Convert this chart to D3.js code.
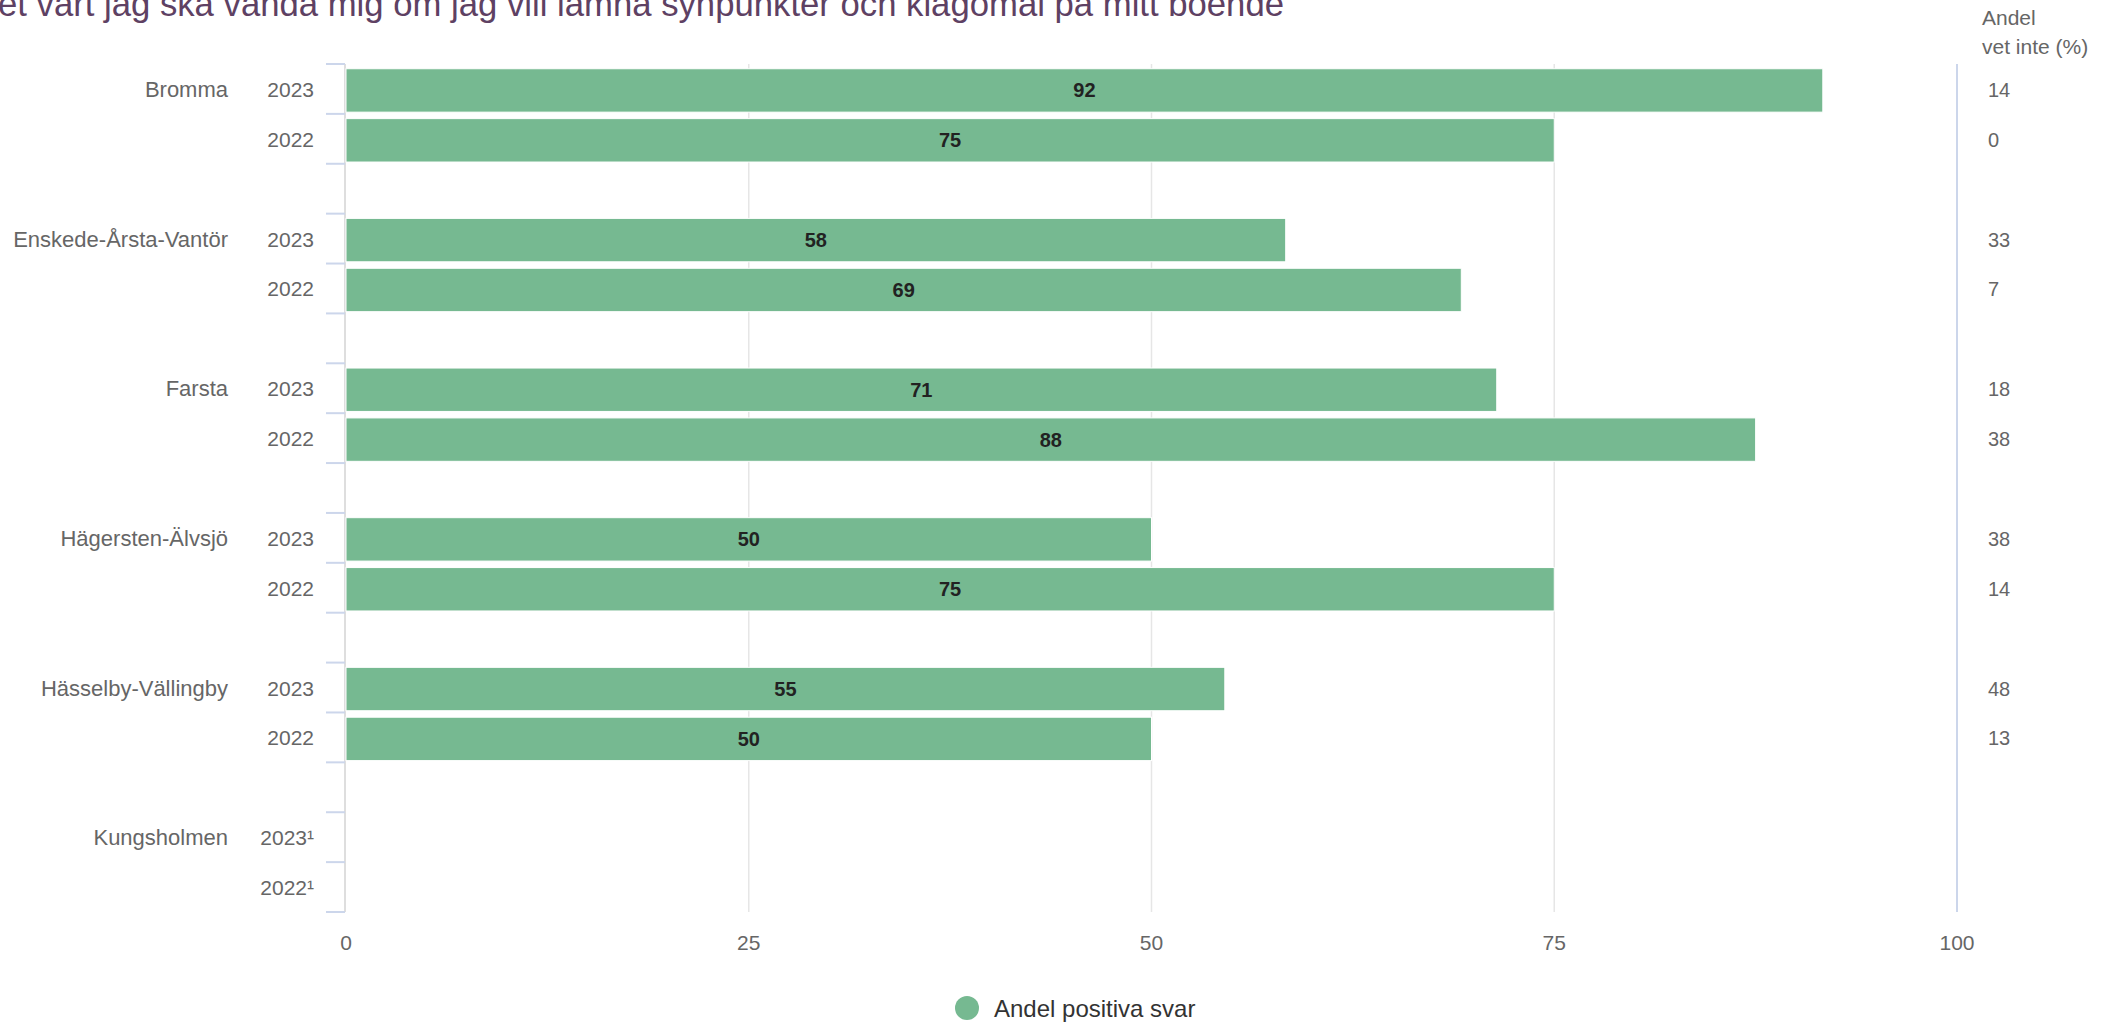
<!DOCTYPE html>
<html>
<head>
<meta charset="utf-8">
<script src="https://cdn.jsdelivr.net/npm/d3@7"></script>
<style>
  html, body { margin: 0; padding: 0; background: #fff; overflow: hidden; }
  svg { display: block; font-family: "Liberation Sans", Arial, Helvetica, sans-serif; }
</style>
</head>
<body>
<svg id="chart" width="2126" height="1023"></svg>
<script>
// ---- data ----
const titleText = "Jag vet vart jag ska vända mig om jag vill lämna synpunkter och klagomål på mitt boende";
const groups = ["Bromma", "Enskede-Årsta-Vantör", "Farsta", "Hägersten-Älvsjö", "Hässelby-Vällingby", "Kungsholmen"];
const yearLabels2023 = ["2023", "2023", "2023", "2023", "2023", "2023¹"];
const yearLabels2022 = ["2022", "2022", "2022", "2022", "2022", "2022¹"];
const positive2023 = [91.67, 58.33, 71.43, 50, 54.55, null];
const positive2022 = [75, 69.23, 87.5, 75, 50, null];
const dontKnow2023 = [14, 33, 18, 38, 48, null];
const dontKnow2022 = [0, 7, 38, 14, 13, null];
const xTicks = [0, 25, 50, 75, 100];
const legendLabel = "Andel positiva svar";
const rightHeader = ["Andel", "vet inte (%)"];

// ---- build rows ----
const rows = [];
const keys = [];
groups.forEach((g, gi) => {
  rows.push({ key: gi + "-a", group: g, groupLabel: true, year: yearLabels2023[gi], value: positive2023[gi], dk: dontKnow2023[gi] });
  rows.push({ key: gi + "-b", group: g, groupLabel: false, year: yearLabels2022[gi], value: positive2022[gi], dk: dontKnow2022[gi] });
  keys.push(gi + "-a", gi + "-b");
  if (gi < groups.length - 1) keys.push("gap-" + gi);
});

const svg = d3.select("#chart");
const color = "#76b991";
const textGray = "#666666";

const x = d3.scaleLinear().domain([0, 100]).range([346, 1957]);
const y = d3.scaleBand().domain(keys).range([64, 912]).paddingInner(0.13).paddingOuter(0.065);

// ---- title ----
svg.append("text")
  .attr("x", 1284).attr("y", 16)
  .attr("text-anchor", "end")
  .attr("fill", "#5e4163")
  .style("font-size", "34.7px")
  .text(titleText);

// ---- gridlines ----
svg.append("g").selectAll("line")
  .data(xTicks.filter(t => t > 0 && t < 100))
  .join("line")
  .attr("x1", d => x(d)).attr("x2", d => x(d))
  .attr("y1", y.range()[0]).attr("y2", y.range()[1])
  .attr("stroke", "#e6e6e6").attr("stroke-width", 1.5);

// right (100) line
svg.append("line")
  .attr("x1", x(100)).attr("x2", x(100))
  .attr("y1", y.range()[0]).attr("y2", y.range()[1])
  .attr("stroke", "#ccd6eb").attr("stroke-width", 2);

// left axis line
svg.append("line")
  .attr("x1", x(0) - 1).attr("x2", x(0) - 1)
  .attr("y1", y.range()[0]).attr("y2", y.range()[1])
  .attr("stroke", "#dedede").attr("stroke-width", 2);

// category ticks at every slot boundary
const boundaries = d3.range(keys.length + 1).map(k => y.range()[0] + k * y.step());
svg.append("g").selectAll("line")
  .data(boundaries)
  .join("line")
  .attr("x1", x(0) - 20).attr("x2", x(0) - 1)
  .attr("y1", d => d).attr("y2", d => d)
  .attr("stroke", "#ccd6eb").attr("stroke-width", 2);

// ---- bars ----
const dataRows = rows.filter(r => r.value != null);
svg.append("g").attr("transform", "translate(0,1.5)").selectAll("rect")
  .data(dataRows)
  .join("rect")
  .attr("x", x(0))
  .attr("y", d => y(d.key))
  .attr("width", d => x(d.value) - x(0))
  .attr("height", y.bandwidth())
  .attr("fill", color)
  .attr("stroke", "#ffffff").attr("stroke-width", 1);

// value labels
svg.append("g").selectAll("text")
  .data(dataRows)
  .join("text")
  .attr("x", d => (x(0) + x(d.value)) / 2)
  .attr("y", d => y(d.key) + y.bandwidth() / 2 + 8.5)
  .attr("text-anchor", "middle")
  .attr("fill", "#222222")
  .style("font-size", "20px").style("font-weight", "bold")
  .text(d => Math.round(d.value));

// ---- category labels ----
svg.append("g").selectAll("text")
  .data(rows)
  .join("text")
  .attr("x", 314)
  .attr("y", d => y(d.key) + y.bandwidth() / 2 + 8)
  .attr("text-anchor", "end")
  .attr("fill", textGray)
  .style("font-size", "21px")
  .text(d => d.year);

svg.append("g").selectAll("text")
  .data(rows.filter(r => r.groupLabel))
  .join("text")
  .attr("x", 228)
  .attr("y", d => y(d.key) + y.bandwidth() / 2 + 8)
  .attr("text-anchor", "end")
  .attr("fill", textGray)
  .style("font-size", "22px")
  .text(d => d.group);

// ---- x axis labels ----
svg.append("g").selectAll("text")
  .data(xTicks)
  .join("text")
  .attr("x", d => x(d))
  .attr("y", 950)
  .attr("text-anchor", "middle")
  .attr("fill", textGray)
  .style("font-size", "21px")
  .text(d => d);

// ---- right column ----
svg.append("g").selectAll("text")
  .data(rightHeader)
  .join("text")
  .attr("x", 1982)
  .attr("y", (d, i) => 25 + i * 29)
  .attr("fill", textGray)
  .style("font-size", "21px")
  .text(d => d);

svg.append("g").selectAll("text")
  .data(rows.filter(r => r.dk != null))
  .join("text")
  .attr("x", 1988)
  .attr("y", d => y(d.key) + y.bandwidth() / 2 + 8)
  .attr("fill", textGray)
  .style("font-size", "20px")
  .text(d => d.dk);

// ---- legend ----
const legend = svg.append("g");
legend.append("circle").attr("cx", 967).attr("cy", 1008).attr("r", 12).attr("fill", color);
legend.append("text")
  .attr("x", 994).attr("y", 1017)
  .attr("fill", "#333333")
  .style("font-size", "24px")
  .text(legendLabel);
</script>
</body>
</html>
